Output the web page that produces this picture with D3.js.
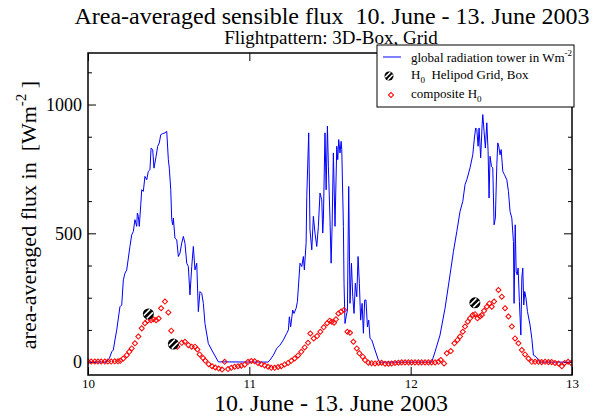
<!DOCTYPE html>
<html>
<head>
<meta charset="utf-8">
<script src="https://cdn.jsdelivr.net/npm/d3@7"></script>
<style>
  body { margin: 0; background: #fff; }
  text { font-family: "Liberation Serif", "Times New Roman", serif; }
</style>
</head>
<body>
<svg id="chart" width="598" height="419"></svg>
<script>
// global radiation at the tower (time in days of June, Wm-2)
var radTime = [10.000,10.112,10.132,10.147,10.157,10.167,10.178,10.198,10.209,10.219,10.229,10.240,10.260,10.271,10.281,10.291,10.302,10.306,10.312,10.318,10.327,10.333,10.343,10.353,10.364,10.374,10.384,10.391,10.401,10.409,10.422,10.432,10.442,10.451,10.463,10.477,10.488,10.498,10.504,10.513,10.519,10.525,10.529,10.539,10.550,10.560,10.570,10.581,10.591,10.601,10.612,10.622,10.632,10.643,10.653,10.663,10.674,10.684,10.694,10.705,10.715,10.725,10.746,10.767,10.808,
  11.116,11.128,11.149,11.170,11.190,11.211,11.232,11.242,11.248,11.256,11.269,11.277,11.290,11.298,11.314,11.325,11.335,11.341,11.352,11.356,11.368,11.376,11.387,11.397,11.407,11.418,11.428,11.438,11.449,11.455,11.459,11.469,11.476,11.484,11.490,11.500,11.507,11.513,11.521,11.531,11.542,11.548,11.554,11.562,11.569,11.573,11.583,11.587,11.593,11.600,11.608,11.616,11.624,11.633,11.641,11.649,11.657,11.666,11.674,11.682,11.690,11.699,11.707,11.715,11.723,11.732,11.740,11.748,11.759,11.779,11.800,11.810,
  12.120,12.131,12.151,12.182,12.213,12.244,12.265,12.286,12.306,12.323,12.337,12.348,12.368,12.385,12.395,12.403,12.410,12.418,12.424,12.434,12.443,12.447,12.455,12.463,12.472,12.480,12.486,12.492,12.501,12.509,12.517,12.525,12.534,12.540,12.546,12.554,12.561,12.571,12.581,12.596,12.606,12.616,12.627,12.637,12.641,12.648,12.654,12.660,12.666,12.674,12.683,12.689,12.695,12.701,12.707,12.715,12.724,12.740,12.751,12.761,12.777,12.792,12.800,13.000];
var radFlux = [0,0,14,40,47,86,124,215,222,319,345,358,449,494,507,553,527,579,566,527,611,669,663,721,708,741,747,831,825,753,799,838,851,883,887,890,896,786,753,669,553,533,559,481,475,410,423,462,488,462,384,371,261,371,449,358,384,196,274,267,228,150,72,47,1,
  0,8,27,53,66,86,112,125,176,137,202,189,209,235,384,371,410,358,462,643,890,514,436,566,501,449,527,656,630,501,553,890,669,916,760,553,384,527,812,527,838,786,864,812,857,825,527,306,150,176,202,682,228,384,254,189,306,254,410,306,163,228,112,241,241,137,163,92,86,47,8,0,
  0,1,40,105,209,339,429,507,585,624,689,708,754,805,870,909,903,838,909,793,922,961,896,831,929,818,637,799,760,754,533,559,767,851,838,805,825,741,728,708,663,585,559,468,228,533,351,339,365,235,105,326,365,222,274,248,196,144,92,27,21,8,0,0];

// composite sensible heat flux H0
var compTime = [10.000,10.020,10.042,10.062,10.082,10.104,10.124,10.144,10.166,10.186,10.200,10.219,10.240,10.256,10.271,10.291,10.312,10.333,10.353,10.370,10.391,10.405,10.422,10.438,10.453,10.477,10.498,10.516,10.554,10.581,10.601,10.622,10.643,10.663,10.678,10.692,10.713,10.727,10.748,10.769,10.789,10.810,10.831,10.847,10.868,10.888,10.909,10.930,10.950,10.971,10.992,
  11.012,11.033,11.054,11.074,11.095,11.116,11.136,11.157,11.178,11.198,11.219,11.240,11.260,11.281,11.302,11.322,11.343,11.364,11.378,11.399,11.420,11.440,11.461,11.482,11.498,11.511,11.525,11.537,11.552,11.569,11.587,11.608,11.624,11.645,11.666,11.682,11.703,11.717,11.738,11.758,11.779,11.800,11.820,11.841,11.862,11.882,11.903,11.924,11.944,11.965,11.986,
  12.006,12.027,12.048,12.068,12.089,12.110,12.130,12.151,12.172,12.187,12.207,12.224,12.249,12.271,12.290,12.306,12.323,12.337,12.354,12.368,12.385,12.399,12.414,12.430,12.441,12.455,12.472,12.488,12.503,12.517,12.544,12.565,12.585,12.606,12.627,12.647,12.668,12.689,12.709,12.730,12.751,12.771,12.792,12.812,12.833,12.854,12.874,12.895,12.916,12.937,12.954,12.976,12.995];
var compFlux = [2,2,2,2,2,2,2,2,3,3,5,14,27,40,53,73,99,131,151,161,163,166,163,169,209,235,193,122,60,75,79,66,60,60,49,30,16,5,-8,-16,-21,-25,-29,1,-27,-22,-18,-16,-14,-10,1,
  4,3,-3,-8,-13,-18,-22,-22,-19,-16,-9,-3,5,14,26,40,57,75,111,92,101,118,135,151,161,157,153,166,189,196,202,118,114,79,53,34,21,8,-2,-4,-5,-3,-2,-6,-6,-5,-3,-2,-1,-1,-1,
  -1,-1,-1,-1,-1,-1,-1,-1,1,8,-5,34,43,73,86,99,118,138,157,170,183,186,170,177,183,199,215,228,215,235,280,254,209,177,138,92,73,47,30,14,1,1,1,0,1,0,0,-3,-5,-16,-3,1,-3];

// Helipod grid / box flights
var heliTime = [10.374, 10.529, 12.398];
var heliFlux = [187, 70, 230];

var xTicks = [10, 11, 12, 13];
var yTicks = [0, 500, 1000];
var yMinorTicks = [125, 250, 375, 625, 750, 875, 1125];

var svg = d3.select("#chart");
var plotL = 88, plotR = 572, plotT = 53, plotB = 375;

var xScale = d3.scaleLinear().domain([10, 13]).range([plotL, plotR]);
var yScale = d3.scaleLinear().domain([-50, 1200]).range([plotB, plotT]);

svg.append("rect").attr("width", 598).attr("height", 419).attr("fill", "#fff");

svg.append("defs").append("clipPath").attr("id", "plotclip")
  .append("rect")
  .attr("x", plotL).attr("y", plotT)
  .attr("width", plotR - plotL).attr("height", plotB - plotT);

// axes, all ticks point inwards
function styleAxis(g){
  g.select(".domain").remove();
  g.selectAll("line").attr("stroke", "#000").attr("stroke-width", 1);
  g.selectAll("text").attr("fill", "#000").style("font-family", "Liberation Serif");
}

svg.append("g")
  .attr("transform", "translate(0," + plotB + ")")
  .call(d3.axisBottom(xScale).tickValues(xTicks).tickSize(-8).tickPadding(4).tickFormat(d3.format("d")))
  .call(styleAxis)
  .selectAll("text").attr("font-size", 13);

svg.append("g")
  .attr("transform", "translate(0," + plotT + ")")
  .call(d3.axisTop(xScale).tickValues(xTicks).tickSize(-8).tickFormat(""))
  .call(styleAxis);

svg.append("g")
  .attr("transform", "translate(" + plotL + ",0)")
  .call(d3.axisLeft(yScale).tickValues(yTicks).tickSize(-8).tickPadding(6).tickFormat(d3.format("d")))
  .call(styleAxis)
  .selectAll("text").attr("font-size", 18);

svg.append("g")
  .attr("transform", "translate(" + plotL + ",0)")
  .call(d3.axisLeft(yScale).tickValues(yMinorTicks).tickSize(-4).tickFormat(""))
  .call(styleAxis);

svg.append("g")
  .attr("transform", "translate(" + plotR + ",0)")
  .call(d3.axisRight(yScale).tickValues(yTicks).tickSize(-8).tickFormat(""))
  .call(styleAxis);

svg.append("g")
  .attr("transform", "translate(" + plotR + ",0)")
  .call(d3.axisRight(yScale).tickValues(yMinorTicks).tickSize(-4).tickFormat(""))
  .call(styleAxis);

var plot = svg.append("g").attr("clip-path", "url(#plotclip)");

// radiation line
var radPoints = radTime.map(function(t, i){ return {t: t, v: radFlux[i]}; });
var line = d3.line()
  .x(function(d){ return xScale(d.t); })
  .y(function(d){ return yScale(d.v); });

plot.append("path")
  .datum(radPoints)
  .attr("d", line)
  .attr("fill", "none")
  .attr("stroke", "#0000ff")
  .attr("stroke-width", 1);

// composite diamonds
var diamond = d3.symbol().type(d3.symbolSquare).size(13);
var compPoints = compTime.map(function(t, i){ return {t: t, v: compFlux[i]}; });

plot.selectAll(".comp")
  .data(compPoints)
  .enter()
  .append("path")
    .attr("class", "comp")
    .attr("d", diamond)
    .attr("transform", function(d){
      return "translate(" + xScale(d.t) + "," + yScale(d.v) + ")rotate(45)";
    })
    .attr("fill", "none")
    .attr("stroke", "#ff0000")
    .attr("stroke-width", 1);

// hatched helipod markers
function heliMarker(g, r){
  g.append("circle").attr("r", r).attr("fill", "#000");
  [-0.38, 0.38].forEach(function(o){
    var off = o * r;
    var half = Math.sqrt(r*r - off*off) * 0.85;
    var c = Math.SQRT1_2;
    var cx = off * c, cy = off * c;
    g.append("line")
      .attr("x1", cx - half*c).attr("y1", cy + half*c)
      .attr("x2", cx + half*c).attr("y2", cy - half*c)
      .attr("stroke", "#fff")
      .attr("stroke-width", 1.6);
  });
}

heliTime.forEach(function(t, i){
  var g = plot.append("g")
    .attr("transform", "translate(" + xScale(t) + "," + yScale(heliFlux[i]) + ")");
  heliMarker(g, 5.5);
});

// frame
svg.append("rect")
  .attr("x", plotL).attr("y", plotT)
  .attr("width", plotR - plotL).attr("height", plotB - plotT)
  .attr("fill", "none")
  .attr("stroke", "#000")
  .attr("stroke-width", 1.5);

// titles
svg.append("text")
  .attr("x", 332).attr("y", 24)
  .attr("text-anchor", "middle")
  .attr("font-size", 24)
  .style("white-space", "pre")
  .text("Area-averaged sensible flux  10. June - 13. June 2003");

svg.append("text")
  .attr("x", 331).attr("y", 44)
  .attr("text-anchor", "middle")
  .attr("font-size", 19)
  .text("Flightpattern: 3D-Box, Grid");

svg.append("text")
  .attr("x", 331).attr("y", 411)
  .attr("text-anchor", "middle")
  .attr("font-size", 24)
  .text("10. June - 13. June 2003");

var yLab = svg.append("text")
  .attr("transform", "translate(36,215)rotate(-90)")
  .attr("text-anchor", "middle")
  .attr("font-size", 22)
  .style("white-space", "pre");
yLab.append("tspan").text("area-averaged flux in  [Wm");
yLab.append("tspan").attr("font-size", 15).attr("dy", -10).text("-2");
yLab.append("tspan").attr("dy", 10).text(" ]");

// legend
var legend = svg.append("g");
legend.append("rect")
  .attr("x", 377).attr("y", 45)
  .attr("width", 197).attr("height", 62)
  .attr("fill", "#fff")
  .attr("stroke", "#000")
  .attr("stroke-width", 1);

legend.append("line")
  .attr("x1", 383).attr("x2", 401)
  .attr("y1", 57).attr("y2", 57)
  .attr("stroke", "#0000ff").attr("stroke-width", 1);

var t1 = legend.append("text").attr("x", 411).attr("y", 62).attr("font-size", 13);
t1.append("tspan").text("global radiation tower in Wm");
t1.append("tspan").attr("font-size", 9).attr("dy", -6).text("-2");

var hg = legend.append("g").attr("transform", "translate(389,76)");
heliMarker(hg, 4.5);

var t2 = legend.append("text").attr("x", 411).attr("y", 79).attr("font-size", 13).style("white-space", "pre");
t2.append("tspan").text("H");
t2.append("tspan").attr("font-size", 9).attr("dy", 4).text("0");
t2.append("tspan").attr("dy", -4).text("  Helipod Grid, Box");

legend.append("path")
  .attr("d", diamond)
  .attr("transform", "translate(391,95)rotate(45)")
  .attr("fill", "none")
  .attr("stroke", "#ff0000")
  .attr("stroke-width", 1);

var t3 = legend.append("text").attr("x", 411).attr("y", 98).attr("font-size", 13);
t3.append("tspan").text("composite H");
t3.append("tspan").attr("font-size", 9).attr("dy", 4).text("0");
</script>
</body>
</html>
